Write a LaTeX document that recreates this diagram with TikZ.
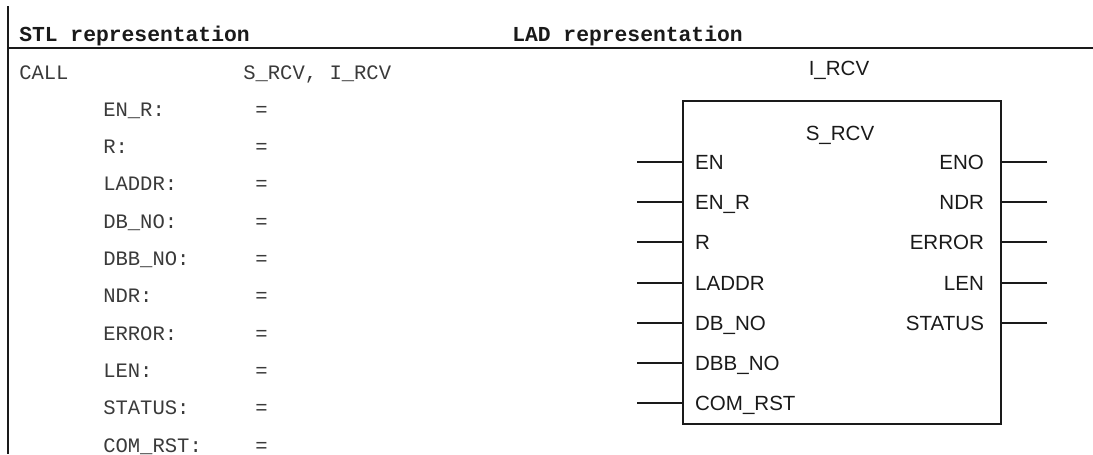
\documentclass[tikz,border=0pt]{standalone}
\usepackage{fontspec}
\setmonofont{Liberation Mono}
\setsansfont{Liberation Sans}
\usepackage{tikz}
\usetikzlibrary{positioning, calc}
\definecolor{ink}{HTML}{1A1A1A}
\definecolor{stlgray}{HTML}{3A3A3A}
\newcommand{\stlfont}{\ttfamily\fontsize{15.4pt}{18pt}\selectfont}
\newcommand{\ladfont}{\sffamily\fontsize{15.4pt}{18pt}\selectfont}
\tikzset{
  rule/.style={draw=ink, line width=1.5pt},
  heading/.style={anchor=base west, inner sep=0pt, font=\ttfamily\bfseries\fontsize{16pt}{19pt}\selectfont, text=ink},
  stlline/.style={anchor=base west, inner sep=0pt, font=\stlfont, text=stlgray},
  fbox/.style={draw=ink, line width=1.3pt, minimum width=238.5pt, minimum height=242.3pt, inner sep=0pt},
  pin/.style={draw=ink, line width=1.5pt},
  inlabel/.style={anchor=base west, inner sep=0pt, xshift=9pt, yshift=-5.6pt, font=\ladfont, text=ink},
  outlabel/.style={anchor=base east, inner sep=0pt, xshift=-12.7pt, yshift=-5.6pt, font=\ladfont, text=ink},
}

\begin{document}
\begin{tikzpicture}[x=0.75pt, y=-0.75pt]
  \useasboundingbox (0,0) rectangle (1093,454);

  % Table frame: left border and the rule under the two headings
  \coordinate (frametop) at (8,6);
  \coordinate (framebot) at (8,454);
  \coordinate (ruleend) at (1093,47.5);
  \draw[rule] (frametop) -- (framebot);
  \draw[rule] (frametop |- ruleend) -- (ruleend);

  \node[heading] (stlhead) at (19,41) {STL representation};
  \node[heading] (ladhead) at (512,41) {LAD representation};

  % STL call with its parameter list
  \node[stlline] (call) at (19,79) {CALL};
  \node[stlline] (callfb) at (243,79) {S\_RCV, I\_RCV};
  \foreach \param [count=\k] in {EN\_R, R, LADDR, DB\_NO, DBB\_NO,
                                  NDR, ERROR, LEN, STATUS, COM\_RST} {
    \node[stlline] (par\k) at (103,79+37.3*\k) {\param:};
    \node[stlline] (eq\k) at (255,79+37.3*\k) {=};
  }

  % LAD block: instance name, box, type name
  \node[fbox] (fb) at (842,262.5) {};
  \node[anchor=base, inner sep=0pt, font=\ladfont, text=ink] (idb) at (839,75.5) {I\_RCV};
  \node[anchor=base, inner sep=0pt, font=\ladfont, text=ink] (fbtype) at (840,140.5) {S\_RCV};

  % Input pins
  \foreach \pin [count=\k from 0] in {EN, EN\_R, R, LADDR, DB\_NO, DBB\_NO, COM\_RST} {
    \coordinate (in\k) at (637,162+40.2*\k);
    \draw[pin] (in\k) -- (in\k -| fb.west) node[inlabel] {\pin};
  }

  % Output pins
  \foreach \pin [count=\k from 0] in {ENO, NDR, ERROR, LEN, STATUS} {
    \coordinate (out\k) at (1047,162+40.2*\k);
    \draw[pin] (out\k) -- (out\k -| fb.east) node[outlabel] {\pin};
  }
\end{tikzpicture}
\end{document}
